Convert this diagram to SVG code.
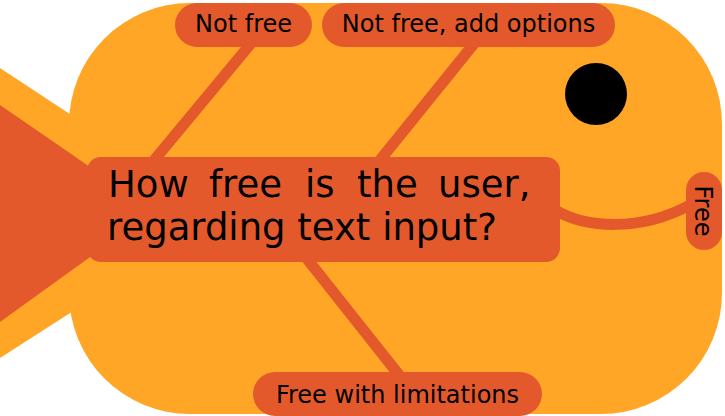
<svg xmlns="http://www.w3.org/2000/svg" width="725" height="416" viewBox="0 0 725 416">
  <style>
    .body { fill: #FFA627; }
    .dark { fill: #E3592C; }
    .bone { fill: none; stroke: #E3592C; stroke-width: 11; }
    .label { font-family: "DejaVu Sans", "Liberation Sans", sans-serif; font-size: 24px; fill: #000; }
    .head { font-family: "DejaVu Sans", "Liberation Sans", sans-serif; font-size: 37px; fill: #000; }
  </style>

  <!-- fish body and tail -->
  <g id="fish">
    <rect class="body" x="69" y="3" width="653" height="411" rx="121" ry="121"/>
    <polygon class="body" points="0,68 223,215 0,358"/>
    <polygon class="dark" points="0,105 154,211 0,322"/>
    <circle id="eye" cx="596" cy="94" r="31" fill="#000"/>
  </g>

  <!-- bones linking the outcomes to the question -->
  <g id="connectors">
    <line class="bone" x1="258" y1="35" x2="146" y2="170"/>
    <line class="bone" x1="481" y1="35" x2="372" y2="170"/>
    <line class="bone" x1="300" y1="250" x2="403" y2="380"/>
    <path class="bone" d="M555,210 C585,228 640,232 690,205"/>
  </g>

  <g id="question">
    <rect class="dark" x="87" y="157" width="473" height="105" rx="14" ry="14"/>
    <text class="head" y="197">
      <tspan x="108">How</tspan><tspan x="209">free</tspan><tspan x="305">is</tspan><tspan x="357">the</tspan><tspan x="438">user,</tspan>
    </text>
    <text class="head" x="107" y="240">regarding text input?</text>
  </g>

  <g id="not-free">
    <rect class="dark" x="175" y="3" width="137" height="44" rx="22" ry="22"/>
    <text class="label" x="243.5" y="32" text-anchor="middle">Not free</text>
  </g>

  <g id="not-free-options">
    <rect class="dark" x="322" y="3" width="293" height="44" rx="22" ry="22"/>
    <text class="label" x="468.5" y="32" text-anchor="middle">Not free, add options</text>
  </g>

  <g id="free-limited">
    <rect class="dark" x="253" y="372" width="289" height="44" rx="22" ry="22"/>
    <text class="label" x="397.5" y="403" text-anchor="middle">Free with limitations</text>
  </g>

  <g id="free">
    <rect class="dark" x="686" y="172" width="36" height="78" rx="18" ry="18"/>
    <text class="label" transform="translate(695,211) rotate(90)" text-anchor="middle">Free</text>
  </g>
</svg>
